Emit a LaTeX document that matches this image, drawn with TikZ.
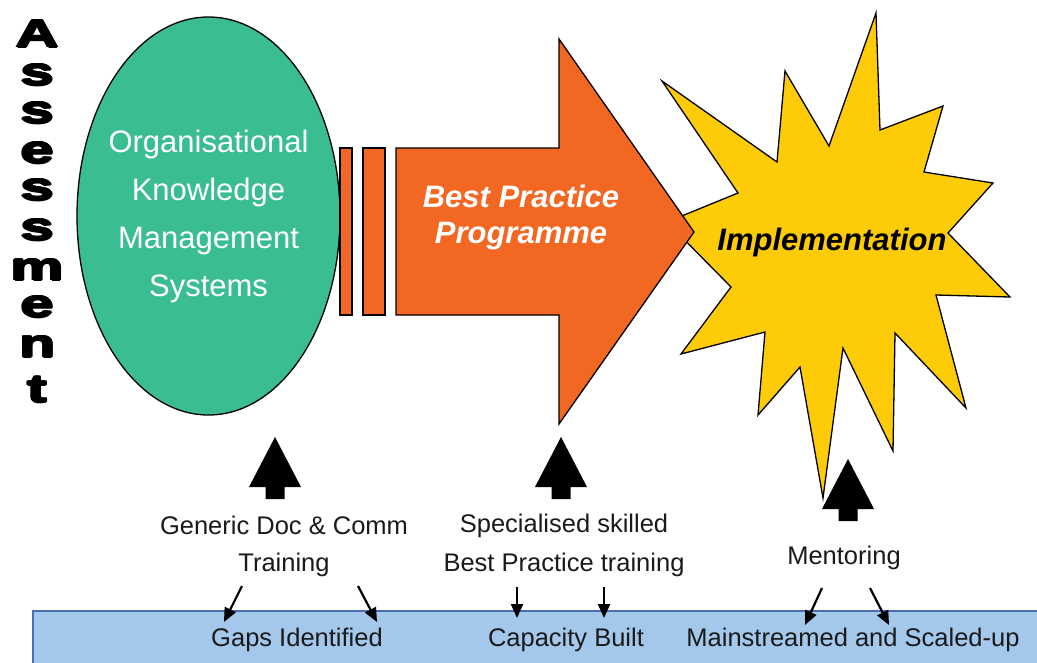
\documentclass[tikz,border=0pt]{standalone}
\usepackage{fontspec}
\setmainfont{Liberation Sans}
\usetikzlibrary{shapes.geometric,arrows.meta}

\definecolor{kmteal}{HTML}{3BBD94}
\definecolor{bporange}{HTML}{F26722}
\definecolor{burstyellow}{HTML}{FDCB08}
\definecolor{barblue}{HTML}{A4C8EC}
\definecolor{barline}{HTML}{4C6DB4}
\definecolor{labelgrey}{HTML}{1A1A1A}

\tikzset{
  outlined/.style={draw=black,line width=1.3pt,line join=miter},
  vletter/.style={anchor=base,inner sep=0pt,font=\bfseries\fontsize{39}{39}\selectfont},
  lbl/.style={inner sep=0pt,text=labelgrey,font=\fontsize{25.5}{30}\selectfont},
  barlbl/.style={inner sep=0pt,text=labelgrey,font=\fontsize{25.5}{30}\selectfont},
  shapetitle/.style={inner sep=0pt,align=center,font=\bfseries\itshape\fontsize{31}{36}\selectfont},
  smallarr/.style={draw=black,line width=2.2pt,-{Triangle[length=14pt,width=12pt]}},
  uparrow/.pic={\fill[black] (0,0) -- (26,50) -- (9.5,50) -- (9.5,62)
                 -- (-9.5,62) -- (-9.5,50) -- (-26,50) -- cycle;}
}

\begin{document}
\begin{tikzpicture}[x=1pt,y=-1pt]
\useasboundingbox (0,0) rectangle (1037,662);

% vertical title: wide letters, thickened by a ring of slightly shifted copies
\foreach \ch/\yb [count=\i] in {A/47,s/85,s/123,e/163,s/200,s/240,m/280,e/317,n/357,t/402}{
  \foreach \dx/\dy in {-1.2/0,1.2/0,0/-1,0/1,-0.85/-0.7,0.85/0.7,-0.85/0.7,0.85/-0.7}
    \node[vletter] at (37.5+\dx,\yb+\dy) {\scalebox{1.52}[1]{\ch}};
  \node[vletter] (title\i) at (37.5,\yb) {\scalebox{1.52}[1]{\ch}};
}

% knowledge management ellipse
\node[ellipse,outlined,fill=kmteal,minimum width=263pt,minimum height=398pt,inner sep=0pt] (oks) at (208.5,216) {};
\node[inner sep=0pt,align=center,text=white,font=\fontsize{31}{48}\selectfont] (okslabel) at (208.5,216.5)
  {Organisational\\Knowledge\\Management\\Systems};

% implementation burst
\draw[outlined,fill=burstyellow] (876,13) -- (880,130) -- (943,106) -- (924,172) -- (993,183)
  -- (948,233) -- (1010,297) -- (936,295) -- (966,408) -- (895,333) -- (893,451)
  -- (843,348) -- (823,498) -- (800,367) -- (758,415) -- (765,332) -- (681,354)
  -- (731,287) -- (667,222) -- (738,193) -- (662,81) -- (777,162) -- (785,71)
  -- (829,146) -- cycle;
\node[shapetitle,text=black] (impl) at (832,242) {Implementation};

% best practice arrow with its trailing bars
\draw[outlined,fill=bporange] (340,148) rectangle (352,315);
\draw[outlined,fill=bporange] (363,148) rectangle (385,315);
\draw[outlined,fill=bporange] (396,148) -- (559,148) -- (559,39) -- (694,232)
  -- (559,424) -- (559,315) -- (396,315) -- cycle;
\node[shapetitle,text=white] (bpp) at (521,217.5) {Best Practice\\Programme};

% black block arrows pointing up
\pic at (275,437) {uparrow};
\pic at (561,437) {uparrow};
\pic at (848,459) {uparrow};

% inputs
\node[lbl] (gen) at (284,525.5) {Generic Doc \& Comm};
\node[lbl] (gentr) at (284,564.5) {Training};
\node[lbl] (spec) at (564,525.5) {Specialised skilled};
\node[lbl] (spectr) at (564,564.5) {Best Practice training};
\node[lbl] (ment) at (844,557.5) {Mentoring};

% outcome bar
\draw[fill=barblue,draw=barline,line width=1.5pt] (33,611) rectangle (1050,672);
\node[barlbl] (gaps) at (297,640) {Gaps Identified};
\node[barlbl] (cap) at (566,640) {Capacity Built};
\node[barlbl] (main) at (853,640) {Mainstreamed and Scaled-up};

% small arrows down to the outcomes
\coordinate (g1) at (242,586);  \coordinate (g1e) at (224,622);
\coordinate (g2) at (358,586);  \coordinate (g2e) at (377,622);
\coordinate (c1) at (517,587);  \coordinate (c1e) at (517,618);
\coordinate (c2) at (604,587);  \coordinate (c2e) at (604,618);
\coordinate (m1) at (822,588);  \coordinate (m1e) at (805,625);
\coordinate (m2) at (870,588);  \coordinate (m2e) at (889,625);
\draw[smallarr] (g1) -- (g1e);
\draw[smallarr] (g2) -- (g2e);
\draw[smallarr] (c1) -- (c1e);
\draw[smallarr] (c2) -- (c2e);
\draw[smallarr] (m1) -- (m1e);
\draw[smallarr] (m2) -- (m2e);
\end{tikzpicture}
\end{document}
